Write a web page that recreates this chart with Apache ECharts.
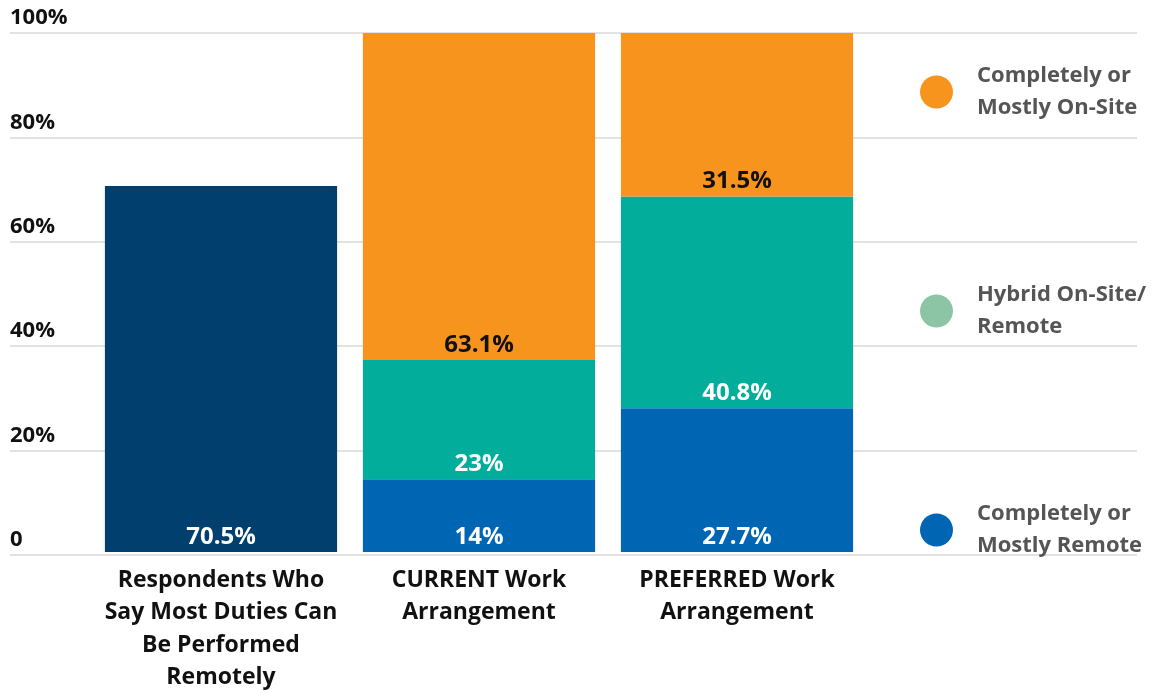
<!DOCTYPE html>
<html>
<head>
<meta charset="utf-8">
<script src="https://cdn.jsdelivr.net/npm/echarts@6/dist/echarts.min.js"></script>
<style>
  html, body { margin: 0; padding: 0; background: #fff; }
  #chart { width: 1171px; height: 694px; }
</style>
</head>
<body>
<div id="chart"></div>
<script>
const categories = [
  'Respondents Who\nSay Most Duties Can\nBe Performed\nRemotely',
  'CURRENT Work\nArrangement',
  'PREFERRED Work\nArrangement'
];
const yTicks = [0, 20, 40, 60, 80, 100];

const canRemote = [70.5, '-', '-'];
const remote = ['-', 14, 27.7];
const hybrid = ['-', 23, 40.8];
const onSite = ['-', 63.1, 31.5];

const legendNames = ['Completely or Mostly On-Site', 'Hybrid On-Site/ Remote', 'Completely or Mostly Remote'];
const legendLines = {
  'Completely or Mostly On-Site': 'Completely or\nMostly On-Site',
  'Hybrid On-Site/ Remote': 'Hybrid On-Site/\nRemote',
  'Completely or Mostly Remote': 'Completely or\nMostly Remote'
};

const font = '"Open Sans", "Noto Sans", sans-serif';
const chart = echarts.init(document.getElementById('chart'));

function segment(name, data, color, labelColor) {
  return {
    name: name,
    type: 'bar',
    stack: 'all',
    data: data,
    barCategoryGap: '10%',
    itemStyle: { color: color },
    label: {
      show: true,
      position: 'insideBottom',
      distance: 3,
      formatter: p => p.value + '%',
      color: labelColor,
      fontFamily: font,
      fontWeight: 'bold',
      fontSize: 24
    }
  };
}

const option = {
  animation: false,
  grid: [
    { left: 92, right: 305, top: 33, bottom: 139 },
    { left: 10, right: 34, top: 33, bottom: 139 }
  ],
  legend: {
    orient: 'vertical',
    left: 915,
    top: 55,
    itemWidth: 33,
    itemHeight: 33,
    itemGap: 155,
    icon: 'circle',
    selectedMode: false,
    data: [
      { name: legendNames[0], itemStyle: { color: '#F7941D' } },
      { name: legendNames[1], itemStyle: { color: '#8CC5A6' } },
      { name: legendNames[2], itemStyle: { color: '#0066B3' } }
    ],
    formatter: n => legendLines[n],
    textStyle: {
      fontFamily: font,
      fontWeight: 'bold',
      fontSize: 22,
      lineHeight: 32,
      color: '#555',
      padding: [0, 0, 0, 19]
    }
  },
  xAxis: [
    {
      type: 'category',
      gridIndex: 0,
      data: categories,
      axisLine: { show: false },
      axisTick: { show: false },
      axisLabel: {
        margin: 12,
        interval: 0,
        color: '#111',
        fontFamily: font,
        fontWeight: 'bold',
        fontSize: 23,
        lineHeight: 32.5,
        align: 'center'
      }
    },
    { type: 'value', gridIndex: 1, show: false, min: 0, max: 1 }
  ],
  yAxis: [
    { type: 'value', gridIndex: 0, min: 0, max: 100, interval: 20, show: false },
    {
      type: 'value',
      gridIndex: 1,
      min: yTicks[0],
      max: yTicks[yTicks.length - 1],
      interval: 20,
      axisLine: { show: false },
      axisTick: { show: false },
      splitLine: { lineStyle: { color: '#d9d9d9', width: 1.5 } },
      axisLabel: {
        inside: true,
        margin: 0,
        verticalAlign: 'bottom',
        padding: [0, 0, 4, 0],
        formatter: v => (v === 0 ? '0' : v + '%'),
        color: '#111',
        fontFamily: font,
        fontWeight: 'bold',
        fontSize: 22
      }
    }
  ],
  series: [
    segment('Can Be Performed Remotely', canRemote, '#003F6E', '#fff'),
    segment(legendNames[2], remote, '#0066B3', '#fff'),
    segment(legendNames[1], hybrid, '#02AE9B', '#fff'),
    segment(legendNames[0], onSite, '#F7941D', '#111')
  ]
};

chart.setOption(option);
</script>
</body>
</html>
